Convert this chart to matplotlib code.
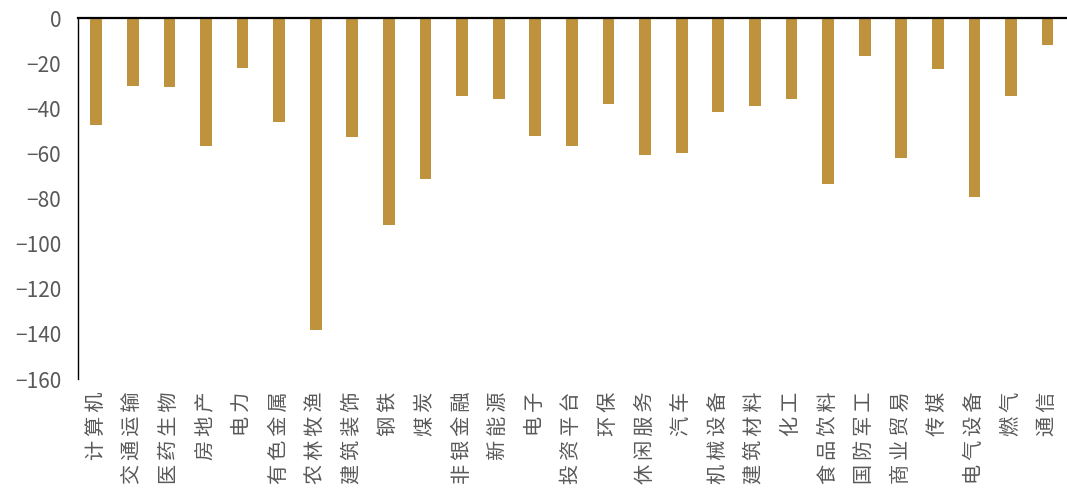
import matplotlib
matplotlib.use("Agg")
import matplotlib.pyplot as plt
import numpy as np

plt.rcParams['font.family'] = ['Noto Sans CJK SC', 'DejaVu Sans']
plt.rcParams['axes.unicode_minus'] = True

industries = ["计算机", "交通运输", "医药生物", "房地产", "电力", "有色金属", "农林牧渔",
              "建筑装饰", "钢铁", "煤炭", "非银金融", "新能源", "电子", "投资平台", "环保",
              "休闲服务", "汽车", "机械设备", "建筑材料", "化工", "食品饮料", "国防军工",
              "商业贸易", "传媒", "电气设备", "燃气", "通信"]
values = [-47.5, -30.2, -30.5, -56.9, -22.0, -46.0, -138.2,
          -52.9, -91.9, -71.5, -34.4, -35.7, -52.1, -56.8, -38.2,
          -60.8, -59.6, -41.5, -38.9, -35.8, -73.4, -16.7,
          -62.2, -22.5, -79.5, -34.4, -12.1]
yticks = [0, -20, -40, -60, -80, -100, -120, -140, -160]

barColor = "#BF923D"
textColor = "#595959"

fig = plt.figure(figsize=(10.67, 4.9), dpi=100)
ax = fig.add_axes([0.073, 0.2265, 0.926, 0.7365])

x = np.arange(len(industries))
ax.bar(x, values, width=0.32, color=barColor, zorder=2)

# the source labels have loose letter spacing, a thin space between glyphs mimics it
spaced = ["\u2009".join(name) for name in industries]

ax.set_xlim(-0.5, len(industries) - 0.5)
ax.set_ylim(-160, 0)
ax.set_yticks(yticks)
ax.set_xticks(x)
ax.set_xticklabels(spaced, rotation=90, fontsize=14.5, color=textColor)
ax.tick_params(axis='x', length=0, pad=9)
ax.tick_params(axis='y', length=0, pad=12, labelsize=15, labelcolor=textColor)

for side in ['right', 'bottom']:
	ax.spines[side].set_visible(False)
ax.spines['top'].set_linewidth(1.6)
ax.spines['top'].set_color('black')
ax.spines['left'].set_linewidth(1.0)
ax.spines['left'].set_color('black')

fig.savefig("out.png", dpi=100)
